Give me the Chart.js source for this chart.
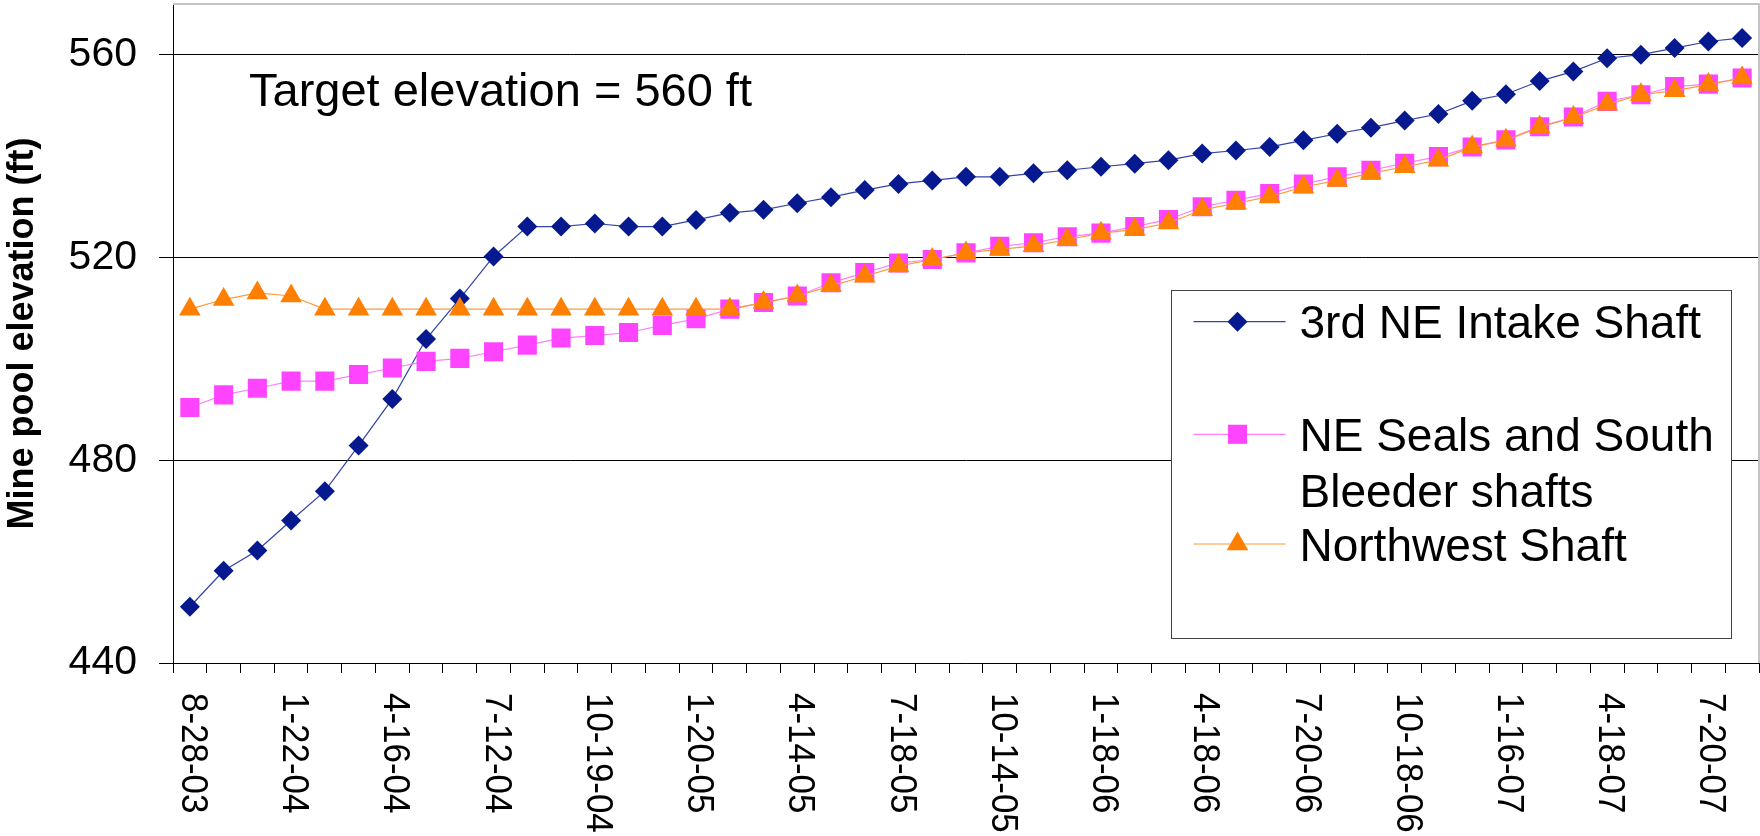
<!DOCTYPE html>
<html>
<head>
<meta charset="utf-8">
<script src="https://cdn.jsdelivr.net/npm/chart.js@4.4.1/dist/chart.umd.min.js"></script>
<style>
  html, body { margin: 0; padding: 0; background: #fff; }
  #wrap { width: 1760px; height: 836px; }
</style>
</head>
<body>
<div id="wrap"><canvas id="elevChart"></canvas></div>
<script>
/* global Chart */

// x labels shown on the axis (one every 3 readings)
let tickLabels = ["8-28-03", "1-22-04", "4-16-04", "7-12-04", "10-19-04", "1-20-05",
  "4-14-05", "7-18-05", "10-14-05", "1-18-06", "4-18-06", "7-20-06",
  "10-18-06", "1-16-07", "4-18-07", "7-20-07"];
let labelEvery = 3;

let intakeShaft = [451.1, 458.2, 462.2, 468.1, 473.9, 482.9, 492.1, 503.9, 511.9, 520.2,
  526.1, 526.1, 526.7, 526.1, 526.1, 527.4, 528.8, 529.4, 530.7, 531.9,
  533.3, 534.5, 535.2, 535.9, 535.9, 536.6, 537.2, 537.9, 538.5, 539.2,
  540.5, 541.1, 541.8, 543.1, 544.4, 545.6, 547.0, 548.3, 550.9, 552.2,
  554.8, 556.7, 559.3, 560.0, 561.3, 562.6, 563.3];
let sealsBleeder = [490.4, 492.9, 494.2, 495.6, 495.6, 496.9, 498.2, 499.5, 500.1, 501.4,
  502.7, 504.1, 504.6, 505.2, 506.6, 507.9, 509.8, 511.1, 512.4, 515.0,
  517.0, 518.9, 519.6, 520.9, 522.2, 522.9, 524.1, 524.8, 526.1, 527.5,
  530.0, 531.3, 532.6, 534.5, 535.9, 537.2, 538.6, 539.9, 541.8, 543.2,
  545.8, 547.7, 550.8, 552.1, 553.7, 554.2, 555.4];
let northwestShaft = [509.8, 511.7, 513.0, 512.4, 509.8, 509.8, 509.8, 509.8, 509.8, 509.8,
  509.8, 509.8, 509.8, 509.8, 509.8, 509.8, 509.8, 511.1, 512.4, 514.4,
  516.3, 518.3, 519.6, 520.9, 521.6, 522.3, 523.5, 524.8, 525.5, 526.8,
  529.4, 530.7, 532.0, 533.9, 535.2, 536.6, 537.9, 539.2, 541.8, 543.1,
  545.7, 547.6, 550.2, 552.1, 552.9, 554.1, 555.4];

let seriesNames = [["3rd NE Intake Shaft"], ["NE Seals and South", "Bleeder shafts"], ["Northwest Shaft"]];
let yTicks = { min: 440, max: 570, step: 40 };
let targetNote = "Target elevation = 560 ft";

let categories = intakeShaft.map((v, i) => (i % labelEvery === 0 ? tickLabels[i / labelEvery] : ""));

const FONT = '"Liberation Sans", Arial, sans-serif';
const colors = ["#06198e", "#ff44ff", "#ff7f00"];
const lineColors = ["#3343a6", "#ff80ff", "#ff9a3c"];
const styles = ["rectRot", "rect", "triangle"];
const radii = [10, 13.5, 12.5];

function marker(ctx, style, x, y, r, color) {
  ctx.save();
  ctx.fillStyle = color;
  ctx.beginPath();
  if (style === "rectRot") {
    ctx.moveTo(x, y - r); ctx.lineTo(x + r, y); ctx.lineTo(x, y + r); ctx.lineTo(x - r, y);
  } else if (style === "rect") {
    let s = r * Math.SQRT1_2;
    ctx.rect(x - s, y - s, 2 * s, 2 * s);
  } else {
    ctx.moveTo(x, y - r);
    ctx.lineTo(x + r * 0.866, y + r * 0.5);
    ctx.lineTo(x - r * 0.866, y + r * 0.5);
  }
  ctx.closePath();
  ctx.fill();
  ctx.restore();
}

function noPad(s) {
  s.paddingTop = 0;
  s.paddingBottom = 0;
  s.paddingLeft = 0;
  s.paddingRight = 0;
}

const framePlugin = {
  id: "frame",
  beforeDatasetsDraw(chart) {
    const { ctx, chartArea: a } = chart;
    ctx.save();
    ctx.strokeStyle = "#c4c4c4";
    ctx.lineWidth = 2;
    ctx.beginPath();
    ctx.moveTo(a.left, a.top);
    ctx.lineTo(a.right, a.top);
    ctx.lineTo(a.right, a.bottom);
    ctx.stroke();
    ctx.restore();
  }
};

const overlayPlugin = {
  id: "overlay",
  afterDatasetsDraw(chart) {
    const { ctx, chartArea: a } = chart;
    const xs = chart.scales.x;

    // note text
    ctx.save();
    ctx.fillStyle = "#000";
    ctx.font = "47px " + FONT;
    ctx.textBaseline = "alphabetic";
    ctx.textAlign = "left";
    ctx.fillText(targetNote, a.left + 76, 106);
    ctx.restore();

    // legend box
    const box = { x: 1171.5, y: 290.5, w: 560, h: 348 };
    ctx.save();
    ctx.fillStyle = "#fff";
    ctx.fillRect(box.x, box.y, box.w, box.h);
    ctx.strokeStyle = "#444";
    ctx.lineWidth = 1;
    ctx.strokeRect(box.x, box.y, box.w, box.h);
    const rowsY = [321.7, 434.3, 544];
    ctx.font = "46px " + FONT;
    seriesNames.forEach((lines, i) => {
      const y = rowsY[i];
      ctx.strokeStyle = lineColors[i];
      ctx.lineWidth = 1.2;
      ctx.beginPath();
      ctx.moveTo(box.x + 22, y);
      ctx.lineTo(box.x + 114, y);
      ctx.stroke();
      marker(ctx, styles[i], box.x + 66, y, radii[i], colors[i]);
      ctx.fillStyle = "#000";
      lines.forEach((t, k) => ctx.fillText(t, box.x + 128, y + 16.6 + k * 56));
    });
    ctx.restore();

    // x labels, rotated clockwise
    ctx.save();
    ctx.fillStyle = "#000";
    ctx.font = "36px " + FONT;
    ctx.textAlign = "left";
    ctx.textBaseline = "middle";
    categories.forEach((lab, i) => {
      if (!lab) return;
      const x = xs.getPixelForValue(i);
      ctx.save();
      ctx.translate(x + 2, a.bottom + 30);
      ctx.rotate(Math.PI / 2);
      ctx.scale(0.97, 1);
      ctx.fillText(lab, 0, 0);
      ctx.restore();
    });
    ctx.restore();
  }
};

const ctx = document.getElementById("elevChart").getContext("2d");
const elevChart = new Chart(ctx, {
  type: "line",
  data: {
    labels: categories,
    datasets: [intakeShaft, sealsBleeder, northwestShaft].map((d, i) => ({
      label: seriesNames[i].join(" "),
      data: d,
      borderColor: lineColors[i],
      backgroundColor: colors[i],
      borderWidth: 1.2,
      pointStyle: styles[i],
      pointRadius: radii[i],
      pointBorderWidth: 0,
      pointBackgroundColor: colors[i],
      pointBorderColor: colors[i],
      tension: 0,
      fill: false,
      order: 2 - i,
    })),
  },
  options: {
    responsive: true,
    maintainAspectRatio: false,
    animation: false,
    devicePixelRatio: 1,
    layout: { autoPadding: false, padding: { top: 4, right: 1, left: 0, bottom: 0 } },
    plugins: {
      legend: { display: false },
      tooltip: { enabled: false },
    },
    scales: {
      x: {
        type: "category",
        offset: true,
        ticks: { display: false, autoSkip: false },
        grid: { drawOnChartArea: false, drawTicks: true, tickLength: 10, color: "#000", offset: true },
        border: { color: "#000", width: 1 },
        afterFit: (s) => { s.height = 173; noPad(s); },
      },
      y: {
        min: yTicks.min,
        max: yTicks.max,
        ticks: {
          stepSize: yTicks.step,
          includeBounds: false,
          color: "#000",
          padding: 22,
          font: { family: FONT, size: 41 },
        },
        grid: { color: "#000", lineWidth: 1, tickLength: 14 },
        border: { color: "#000", width: 1 },
        title: {
          display: true,
          text: "Mine pool elevation (ft)",
          color: "#000",
          font: { family: FONT, size: 36, weight: "bold" },
          padding: { top: 1, bottom: 0 },
        },
        afterFit: (s) => { s.width = 173; noPad(s); },
      },
    },
  },
  plugins: [framePlugin, overlayPlugin],
});
</script>
</body>
</html>
